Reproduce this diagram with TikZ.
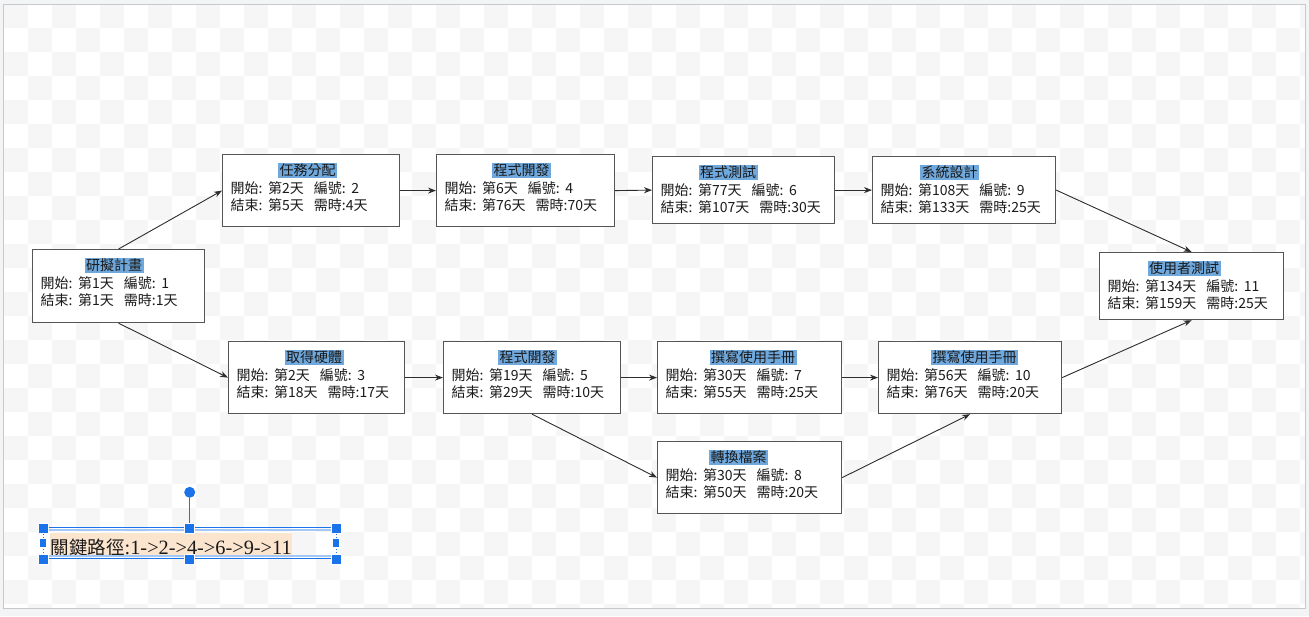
\documentclass[tikz,border=0pt]{standalone}
\usepackage{fontspec}
\setmainfont{Noto Sans CJK TC}
\newfontfamily\lser{Liberation Serif}
\usetikzlibrary{arrows.meta}
\definecolor{boxc}{RGB}{85,85,85}
\definecolor{arrc}{RGB}{45,45,45}
\definecolor{hl}{RGB}{111,168,220}
\definecolor{peach}{RGB}{252,229,207}
\definecolor{chk}{RGB}{246,246,246}
\definecolor{bgc}{RGB}{243,244,246}
\definecolor{canvasc}{RGB}{200,200,204}
\definecolor{sel}{RGB}{26,115,232}
\definecolor{txt}{RGB}{26,26,26}
\newcommand\gapsp{\hspace{10pt}}
\newcommand\csp{\hspace{5.5pt}}
\newcommand\taskbox[9]{%
  \node[box, minimum width=#4, minimum height=#5, anchor=north west] (#1) at (#2,#3) {};
  \node[ttl] (#1t) at ({#6},{#3+16.5}) {#7};
  \node[ln, anchor=base west] (#1a) at ({#2+8.5},{#3+39.2}) {#8};
  \node[ln, anchor=base west] (#1b) at ({#2+8.5},{#3+56}) {#9};
}
\begin{document}
\begin{tikzpicture}[x=1pt,y=-1pt,
  box/.style={draw=boxc, line width=1.2pt, fill=white, inner sep=0},
  ttl/.style={fill=hl, inner xsep=1.5pt, inner ysep=0, text height=12.5pt, text depth=2.5pt, text=txt, font=\fontsize{14}{17}\selectfont},
  ln/.style={inner sep=0, text=txt, font=\fontsize{14}{17}\selectfont},
  arr/.style={draw=arrc, line width=0.9pt, -{Stealth[length=8pt,width=6pt]}},
  hdl/.style={fill=sel, draw=white, line width=0.5pt, minimum size=10pt, inner sep=0},
  hdls/.style={fill=sel, draw=white, line width=0.5pt, minimum width=7pt, minimum height=9pt, inner sep=0}]
\useasboundingbox (0,0) rectangle (1309,616);
\fill[bgc] (0,0) rectangle (1309,616);
\fill[white] (4,4) rectangle (1305,608);
\begin{scope}
\clip (4,4) rectangle (1305,608);
\foreach \i in {0,...,25}{
  \foreach \j in {0,...,54}{
    \pgfmathtruncatemacro\kk{mod(\i+\j,2)}
    \ifnum\kk=0 \fill[chk] ({4+24*\j},{4+24*\i}) rectangle ++(24,24);\fi
  }
}
\end{scope}
\draw[canvasc, line width=1pt] (3.5,4.5) rectangle (1305.5,608.5);

\taskbox{n1}{32}{249}{172}{73}{114}{研擬計畫}{開始:\csp 第1天\gapsp 編號:\csp 1}{結束:\csp 第1天\gapsp 需時:1天}
\taskbox{n2}{222}{154}{177}{72}{307.5}{任務分配}{開始:\csp 第2天\gapsp 編號:\csp 2}{結束:\csp 第5天\gapsp 需時:4天}
\taskbox{n3}{228}{341}{176}{72}{314}{取得硬體}{開始:\csp 第2天\gapsp 編號:\csp 3}{結束:\csp 第18天\gapsp 需時:17天}
\taskbox{n4}{436}{154}{178}{72}{521.5}{程式開發}{開始:\csp 第6天\gapsp 編號:\csp 4}{結束:\csp 第76天\gapsp 需時:70天}
\taskbox{n5}{443}{341}{177}{72}{527.5}{程式開發}{開始:\csp 第19天\gapsp 編號:\csp 5}{結束:\csp 第29天\gapsp 需時:10天}
\taskbox{n6}{652}{156}{182}{67}{728}{程式測試}{開始:\csp 第77天\gapsp 編號:\csp 6}{結束:\csp 第107天\gapsp 需時:30天}
\taskbox{n7}{657}{341}{184}{72}{753}{撰寫使用手冊}{開始:\csp 第30天\gapsp 編號:\csp 7}{結束:\csp 第55天\gapsp 需時:25天}
\taskbox{n8}{657}{441}{184}{72}{738.5}{轉換檔案}{開始:\csp 第30天\gapsp 編號:\csp 8}{結束:\csp 第50天\gapsp 需時:20天}
\taskbox{n9}{872}{156}{183}{67}{949.5}{系統設計}{開始:\csp 第108天\gapsp 編號:\csp 9}{結束:\csp 第133天\gapsp 需時:25天}
\taskbox{n10}{878}{341}{183}{72}{974.5}{撰寫使用手冊}{開始:\csp 第56天\gapsp 編號:\csp 10}{結束:\csp 第76天\gapsp 需時:20天}
\taskbox{n11}{1099}{252}{184}{67}{1184}{使用者測試}{開始:\csp 第134天\gapsp 編號:\csp 11}{結束:\csp 第159天\gapsp 需時:25天}

\draw[arr] (n1.north) -- (n2.west);
\draw[arr] (n1.south) -- (n3.west);
\draw[arr] (n2.east) -- (n4.west);
\draw[arr] (n4.east) -- (n6.west);
\draw[arr] (n6.east) -- (n9.west);
\draw[arr] (n9.east) -- (n11.north);
\draw[arr] (n3.east) -- (n5.west);
\draw[arr] (n5.east) -- (n7.west);
\draw[arr] (n5.south) -- (n8.west);
\draw[arr] (n7.east) -- (n10.west);
\draw[arr] (n8.east) -- (n10.south);
\draw[arr] (n10.east) -- (n11.south);

\node[anchor=west, fill=peach, inner xsep=0.5pt, inner ysep=0, text height=21pt, text depth=2pt, text=txt, font=\fontsize{18.5}{20}\selectfont] (cp) at (50,544.5) {關鍵路徑{\lser\fontsize{20.3}{21}\selectfont :1->2->4->6->9->11}};

\draw[sel, line width=1.5pt] (43,527.5) -- (336,527.5);
\draw[sel!40, line width=1.2pt] (43,530) -- (336,530);
\draw[sel!40, line width=1.2pt] (43,556) -- (336,556);
\draw[sel, line width=1.5pt] (43,558.5) -- (336,558.5);
\draw[sel, line width=0.8pt, dash pattern=on 1pt off 2pt] (43,528) -- (43,559);
\draw[sel, line width=0.8pt, dash pattern=on 1pt off 2pt] (336,528) -- (336,559);
\node[hdl] (htl) at (43,528) {};
\node[hdl] (htm) at (189.7,528) {};
\node[hdl] (htr) at (336,528) {};
\node[hdls] (hml) at (43,543) {};
\node[hdls] (hmr) at (336,543) {};
\node[hdl] (hbl) at (43,559) {};
\node[hdl] (hbm) at (189.7,559) {};
\node[hdl] (hbr) at (336,559) {};
\node[circle, fill=sel, minimum size=11pt, inner sep=0] (rot) at (189.7,492.3) {};
\draw[sel, line width=1.5pt] (rot) -- (htm);
\end{tikzpicture}
\end{document}
